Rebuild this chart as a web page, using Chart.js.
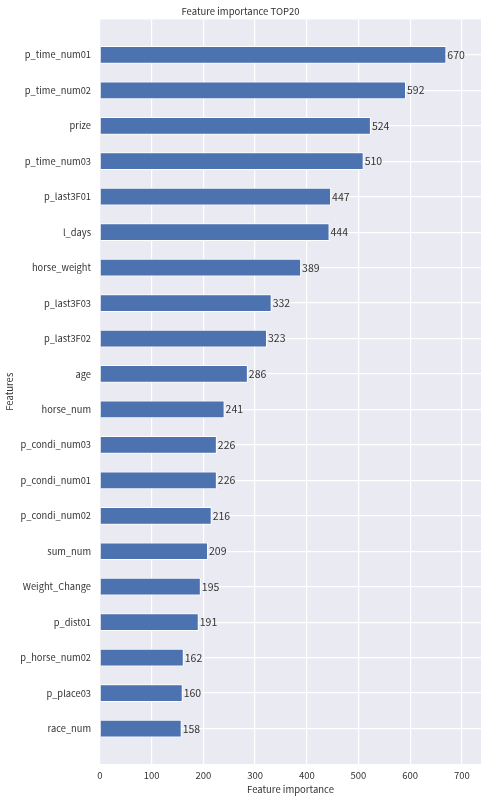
<!DOCTYPE html>
<html><head><meta charset="utf-8">
<script src="https://cdn.jsdelivr.net/npm/chart.js@4"></script>
<style>html,body{margin:0;padding:0;background:#fff}#wrap{width:487px;height:800px}</style>
</head><body><div id="wrap"><canvas id="c"></canvas></div>
<script>
const features = ["p_time_num01","p_time_num02","prize","p_time_num03","p_last3F01","l_days","horse_weight","p_last3F03","p_last3F02","age","horse_num","p_condi_num03","p_condi_num01","p_condi_num02","sum_num","Weight_Change","p_dist01","p_horse_num02","p_place03","race_num"];
const importance = [670,592,524,510,447,444,389,332,323,286,241,226,226,216,209,195,191,162,160,158];
const xTicks = [0,100,200,300,400,500,600,700];

const FONT = '"Noto Sans CJK JP", "Noto Sans", sans-serif';
const TXT = '#333333';

const bgPlugin = {
  id:'bg',
  beforeDraw(chart){
    const {ctx, chartArea:a} = chart;
    ctx.save(); ctx.fillStyle='#EAEAF2';
    ctx.fillRect(a.left,a.top,a.right-a.left,a.bottom-a.top);
    ctx.restore();
  }
};
const valPlugin = {
  id:'vals',
  afterDatasetsDraw(chart){
    const {ctx} = chart;
    const meta = chart.getDatasetMeta(0);
    ctx.save();
    ctx.font = '10.5px ' + FONT;
    ctx.fillStyle = TXT;
    ctx.textBaseline = 'middle';
    ctx.textAlign = 'left';
    meta.data.forEach((el,i)=>{
      ctx.fillText(String(importance[i]), el.x + 1, el.y);
    });
    ctx.restore();
  }
};

new Chart(document.getElementById('c'), {
  type:'bar',
  data:{
    datasets:[{
      data: importance.map((v,i)=>({x:v,y:i})),
      backgroundColor:'#4C72B0',
      borderColor:'#ffffff',
      borderWidth:1,
      barPercentage:0.5,
      categoryPercentage:1.0
    }]
  },
  options:{
    indexAxis:'y',
    responsive:true,
    maintainAspectRatio:false,
    animation:false,
    layout:{padding:{top:0,right:6,bottom:5,left:0}},
    plugins:{
      legend:{display:false},
      tooltip:{enabled:false},
      title:{display:true,text:'Feature importance TOP20',color:TXT,
        font:{family:FONT,size:9.5,weight:'normal'},padding:{top:6,bottom:2}}
    },
    scales:{
      x:{
        type:'linear', min:0, max:Math.max(...importance)*1.1,
        grid:{color:'#ffffff',lineWidth:1.2,drawTicks:false},
        border:{display:false},
        afterFit:(s)=>{s.height=31;},
        ticks:{stepSize:100,includeBounds:false,color:TXT,padding:6,
          font:{family:FONT,size:9.5},
          callback:(v)=>xTicks.includes(v)?String(v):''},
        title:{display:true,text:'Feature importance',color:TXT,
          font:{family:FONT,size:9.5},padding:{top:0,bottom:0}}
      },
      y:{
        type:'linear', min:-1, max:20, reverse:true, offset:false,
        afterFit:(s)=>{s.width=100;},
        grid:{offset:false,color:(c)=>(c.tick && c.tick.value>=0 && c.tick.value<features.length)?'#ffffff':'rgba(0,0,0,0)',lineWidth:1.2,drawTicks:false},
        border:{display:false},
        ticks:{stepSize:1,autoSkip:false,maxTicksLimit:30,includeBounds:true,color:TXT,padding:9,
          font:{family:FONT,size:9.3},
          callback:(v)=>features[v]!==undefined?features[v]:''},
        title:{display:true,text:'Features',color:TXT,
          font:{family:FONT,size:9.5},padding:{top:4,bottom:0}}
      }
    }
  },
  plugins:[bgPlugin,valPlugin]
});
</script></body></html>
